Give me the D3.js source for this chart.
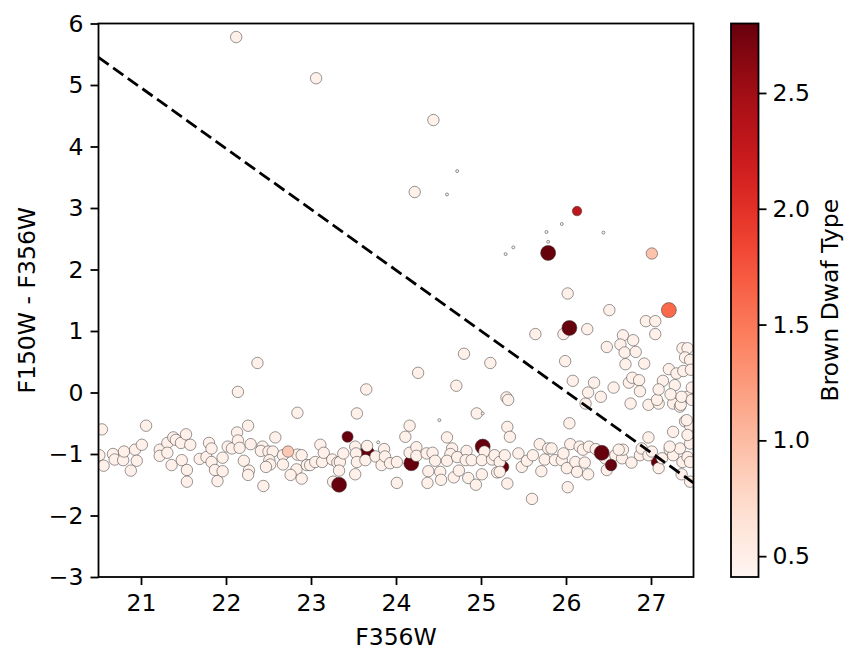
<!DOCTYPE html>
<html lang="en">
  <head>
    <meta http-equiv="Content-Type" content="text/html; charset=utf-8"/>
    <style>
body {
  margin: 0;
  background: #fff;
}
text {
  font-family: "DejaVu Sans", sans-serif;
  fill: #000;
}
.axis text {
  font-size: 23.5px;
  font-family: "DejaVu Sans", sans-serif;
}
.axis path, .axis line {
  stroke: #000;
  stroke-width: 1.8;
}
    </style>
  </head>
  <body>
    <div id="content"></div>
    <script src="https://d3js.org/d3.v7.min.js"></script>
    <script>

// tick labels
var xTicks = [21, 22, 23, 24, 25, 26, 27];
var yTicks = [-3, -2, -1, 0, 1, 2, 3, 4, 5, 6];
var cTicks = [0.5, 1.0, 1.5, 2.0, 2.5];

// ordinary (late type ~0.5) sources: F356W mag and F150W-F356W colour
var lightMag = [
  20.54, 21.06, 22.84, 20.51, 20.56, 20.67, 20.69, 20.79, 20.80, 20.93, 21.01, 20.95, 20.88,
  21.22, 21.22, 21.31, 21.31, 21.38, 21.41, 21.47, 21.53, 21.58, 21.36, 21.48, 21.54, 21.54,
  21.69, 21.77, 21.80, 21.83, 21.83, 21.87, 21.90, 21.96, 21.96, 22.02, 22.07, 22.13, 22.14,
  22.16, 22.26, 22.29, 22.21, 22.27, 22.26, 22.43, 22.41, 22.44, 22.50, 22.55, 22.51, 22.52,
  22.47, 22.58, 22.67, 22.67, 22.84, 22.89, 22.83, 22.76, 22.89, 22.95,
  23.54, 24.95, 24.16, 24.11, 23.11, 22.99, 23.05, 23.13, 23.15, 23.25, 23.31, 23.34, 23.38,
  23.33, 23.26, 23.52, 23.53, 23.54, 23.52, 23.66, 23.64, 23.76, 23.83, 23.86, 23.87, 23.93,
  24.01, 24.01, 24.16, 24.24, 24.24, 24.36, 24.43, 24.38, 24.37, 24.46, 24.52, 24.53, 24.60,
  24.66, 24.64, 24.60, 24.68, 24.72, 24.74, 24.83, 24.82, 24.85, 24.89, 24.94, 25.01, 25.04,
  25.01, 25.13, 25.19,
  25.31, 25.34, 26.04, 26.23, 26.76, 26.97, 27.09, 27.26, 27.34, 27.40, 27.46, 27.26, 26.97,
  25.16, 25.22, 25.28, 25.22, 25.31, 25.44, 25.48, 25.54, 25.61, 25.69, 25.71, 25.75, 25.79,
  25.83, 25.87, 25.95, 25.97, 26.01, 26.05, 26.11, 26.13, 26.16, 26.20, 26.22, 26.26, 26.02,
  25.60, 26.27, 26.35, 26.46, 26.58, 26.66, 26.67, 26.62, 26.48, 26.77, 26.87, 26.89, 26.97,
  27.01, 27.09, 27.13, 27.22, 27.26, 27.34, 27.37, 27.43, 27.46, 27.36, 27.46, 27.46, 27.42,
  27.22,
  26.02, 26.51, 26.94, 27.05, 27.05, 26.67, 26.79, 26.64, 26.48, 26.69, 26.82, 26.70, 26.92,
  26.25, 25.97, 25.64, 25.11, 25.99, 26.08, 26.33, 26.26, 26.41, 26.56, 26.74, 26.78, 26.86,
  26.87, 27.07, 27.14, 27.21, 27.30, 27.38, 27.28, 27.23, 27.09, 27.43, 27.37, 27.43, 27.40,
  27.46, 27.47, 25.30, 25.32, 27.35, 27.36, 27.48, 27.43, 27.48,
  22.37, 22.14, 23.65, 24.26, 24.80, 24.71,
  22.12, 23.06, 24.44, 24.22
];
var lightColor = [
  -0.60, -0.54, -0.33, -1.02, -1.19, -1.00, -1.09, -1.10, -0.96, -0.93, -0.85, -1.11, -1.27,
  -0.93, -1.03, -0.82, -0.98, -0.73, -0.77, -0.82, -0.68, -0.85, -1.18, -1.10, -1.26, -1.45,
  -1.08, -1.05, -0.82, -0.91, -1.13, -1.26, -1.44, -1.28, -1.06, -0.88, -0.91, -0.65, -0.78,
  -0.90, -0.54, -0.84, -1.11, -1.27, -1.34, -0.88, -0.95, -1.52, -0.96, -0.96, -1.10, -1.17,
  -1.21, -0.73, -1.02, -1.17, -1.01, -1.02, -1.25, -1.34, -1.40, -1.18,
  -0.34, -0.34, -0.54, -0.72, -0.85, -1.18, -1.13, -1.13, -0.98, -1.09, -1.14, -1.13, -0.99,
  -1.27, -1.45, -0.88, -0.99, -1.13, -1.33, -0.87, -1.10, -1.04, -1.18, -0.92, -1.04, -1.15,
  -1.13, -1.47, -0.98, -0.89, -1.03, -0.99, -0.98, -1.28, -1.47, -1.11, -1.29, -1.42, -0.73,
  -0.91, -1.00, -1.11, -1.38, -1.05, -1.27, -0.95, -1.10, -1.39, -1.10, -1.50, -1.33, -0.96,
  -1.10, -1.09, -1.30,
  -0.56, -0.72, -0.50, -0.18, -0.18, -0.20, -0.18, -0.18, -0.23, -0.47, -0.54, -0.64, -0.73,
  -1.02, -1.13, -1.02, -1.29, -1.48, -0.99, -1.21, -1.11, -1.02, -0.84, -1.28, -1.09, -0.91,
  -0.91, -1.10, -1.10, -0.99, -1.23, -0.84, -1.13, -1.29, -0.88, -0.93, -1.14, -1.33, -1.54,
  -1.73, -0.88, -0.92, -1.07, -1.02, -1.07, -0.93, -0.93, -1.26, -1.14, -1.02, -0.91, -1.02,
  -0.96, -1.23, -1.07, -0.93, -1.02, -0.91, -1.13, -1.05, -1.13, -1.33, -1.45, -0.83, -0.45,
  -0.88,
  1.61, 1.34, 1.16, 1.16, 0.95, 0.93, 0.85, 0.78, 0.74, 0.65, 0.66, 0.46, 0.47,
  1.03, 0.95, 0.95, 0.48, 0.51, 0.19, 0.16, 0.00, -0.07, 0.08, 0.16, 0.24, 0.20,
  0.02, -0.12, 0.19, 0.38, 0.31, 0.35, 0.12, -0.03, 0.05, -0.07, 0.72, 0.72, 0.57,
  0.53, 0.37, -0.08, -0.12, -0.20, -0.07, 0.08, -0.69, -0.12,
  0.48, 0.01, 0.05, 0.32, 0.63, 0.11,
  5.78, 5.11, 4.43, 3.26
];
var lightType = 0.47;

// brown dwarf candidates drawn beneath the crowd
var backMag = [23.66, 24.18, 25.26, 27.07, 25.02];
var backColor = [-0.99, -1.15, -1.21, -1.13, -0.88];
var backType = [2.8, 2.8, 2.8, 2.8, 2.8];
var backWeight = [1.0, 1.0, 0.6, 0.6, 1.0];

// brown dwarf candidates drawn on top
var frontMag = [25.79, 26.13, 27.01, 27.21, 26.04, 22.73, 23.43, 23.33, 26.42, 26.53];
var frontColor = [2.27, 2.95, 2.26, 1.34, 1.05, -0.96, -0.72, -1.50, -0.98, -1.18];
var frontType = [2.8, 2.3, 0.95, 1.6, 2.8, 0.9, 2.8, 2.8, 2.8, 2.8];
var frontWeight = [1.0, 0.4, 0.58, 1.0, 1.0, 0.58, 0.55, 1.0, 1.0, 0.6];

// very faint-weight detections
var tinyMag = [24.72, 24.60, 25.95, 25.77, 26.44, 25.38, 25.29, 25.79, 24.51, 25.02, 23.79];
var tinyColor = [3.60, 3.22, 2.74, 2.61, 2.60, 2.36, 2.25, 2.45, -0.45, -0.34, -0.81];
var tinyWeight = 0.04;

// dividing line end points
var cutMag = [20.5, 27.5];
var cutColor = [5.45, -1.47];

var width = 860, height = 664;
var plot = {left: 98.5, right: 693.5, top: 23.5, bottom: 577};
var bar = {left: 731, right: 758.5};

var svg = d3.select('#content').append('svg')
  .attr('width', width)
  .attr('height', height);

var x = d3.scaleLinear().domain([20.5, 27.5]).range([plot.left, plot.right]);
var y = d3.scaleLinear().domain([-3, 6]).range([plot.bottom, plot.top]);
var cmin = 0.41, cmax = 2.8;
var color = d3.scaleSequential(d3.interpolateReds).domain([cmin, cmax]);
var r = d3.scaleSqrt().domain([0, 1]).range([0, 7.5]);

svg.append('clipPath').attr('id', 'clip')
  .append('rect')
  .attr('x', plot.left).attr('y', plot.top)
  .attr('width', plot.right - plot.left).attr('height', plot.bottom - plot.top);

var pts = [];
function add(mags, cols, types, weights) {
  mags.forEach(function(m, i) {
    pts.push({
      mag: m,
      col: cols[i],
      type: Array.isArray(types) ? types[i] : types,
      w: Array.isArray(weights) ? weights[i] : weights
    });
  });
}
add(backMag, backColor, backType, backWeight);
add(lightMag, lightColor, lightType, 0.58);
add(frontMag, frontColor, frontType, frontWeight);
add(tinyMag, tinyColor, lightType, tinyWeight);

var g = svg.append('g').attr('clip-path', 'url(#clip)');

g.selectAll('circle')
  .data(pts)
  .enter()
  .append('circle')
  .attr('cx', function(d) { return x(d.mag); })
  .attr('cy', function(d) { return y(d.col); })
  .attr('r', function(d) { return r(d.w); })
  .style('fill', function(d) { return color(d.type); })
  .style('stroke', '#3a3a3a')
  .style('stroke-opacity', 0.75)
  .style('stroke-width', 0.7);

g.append('line')
  .attr('x1', x(cutMag[0])).attr('y1', y(cutColor[0]))
  .attr('x2', x(cutMag[1])).attr('y2', y(cutColor[1]))
  .style('stroke', '#000')
  .style('stroke-width', 2.8)
  .style('stroke-dasharray', '12.5,5.5');

// axes
var xAxis = svg.append('g').attr('class', 'axis')
  .attr('transform', 'translate(0,' + plot.bottom + ')')
  .call(d3.axisBottom(x).tickValues(xTicks).tickSize(8).tickPadding(9).tickFormat(d3.format('d')));
var yAxis = svg.append('g').attr('class', 'axis')
  .attr('transform', 'translate(' + plot.left + ',0)')
  .call(d3.axisLeft(y).tickValues(yTicks).tickSize(8).tickPadding(7).tickFormat(function(d) {
    return d < 0 ? '\u2212' + Math.abs(d) : d;
  }));
xAxis.select('.domain').remove();
yAxis.select('.domain').remove();

svg.append('rect')
  .attr('x', plot.left).attr('y', plot.top)
  .attr('width', plot.right - plot.left).attr('height', plot.bottom - plot.top)
  .style('fill', 'none').style('stroke', '#000').style('stroke-width', 1.8);

svg.append('text')
  .attr('x', (plot.left + plot.right) / 2).attr('y', 645)
  .attr('text-anchor', 'middle').style('font-size', '23.5px')
  .text('F356W');
svg.append('text')
  .attr('transform', 'translate(35,' + ((plot.top + plot.bottom) / 2) + ') rotate(-90)')
  .attr('text-anchor', 'middle').style('font-size', '23.5px')
  .text('F150W - F356W');

// colorbar
var defs = svg.append('defs');
var grad = defs.append('linearGradient').attr('id', 'cbar')
  .attr('x1', 0).attr('y1', 1).attr('x2', 0).attr('y2', 0);
d3.range(0, 1.0001, 0.05).forEach(function(t) {
  grad.append('stop')
    .attr('offset', t)
    .attr('stop-color', color(cmin + t * (cmax - cmin)));
});
svg.append('rect')
  .attr('x', bar.left).attr('y', plot.top)
  .attr('width', bar.right - bar.left).attr('height', plot.bottom - plot.top)
  .style('fill', 'url(#cbar)')
  .style('stroke', '#000').style('stroke-width', 1.8);

var cy = d3.scaleLinear().domain([cmin, cmax]).range([plot.bottom, plot.top]);
var cAxis = svg.append('g').attr('class', 'axis')
  .attr('transform', 'translate(' + bar.right + ',0)')
  .call(d3.axisRight(cy).tickValues(cTicks).tickSize(8).tickPadding(6).tickFormat(d3.format('.1f')));
cAxis.select('.domain').remove();

svg.append('text')
  .attr('transform', 'translate(838,' + ((plot.top + plot.bottom) / 2) + ') rotate(-90)')
  .attr('text-anchor', 'middle').style('font-size', '23.5px')
  .text('Brown Dwaf Type');

    </script>
  </body>
</html>
